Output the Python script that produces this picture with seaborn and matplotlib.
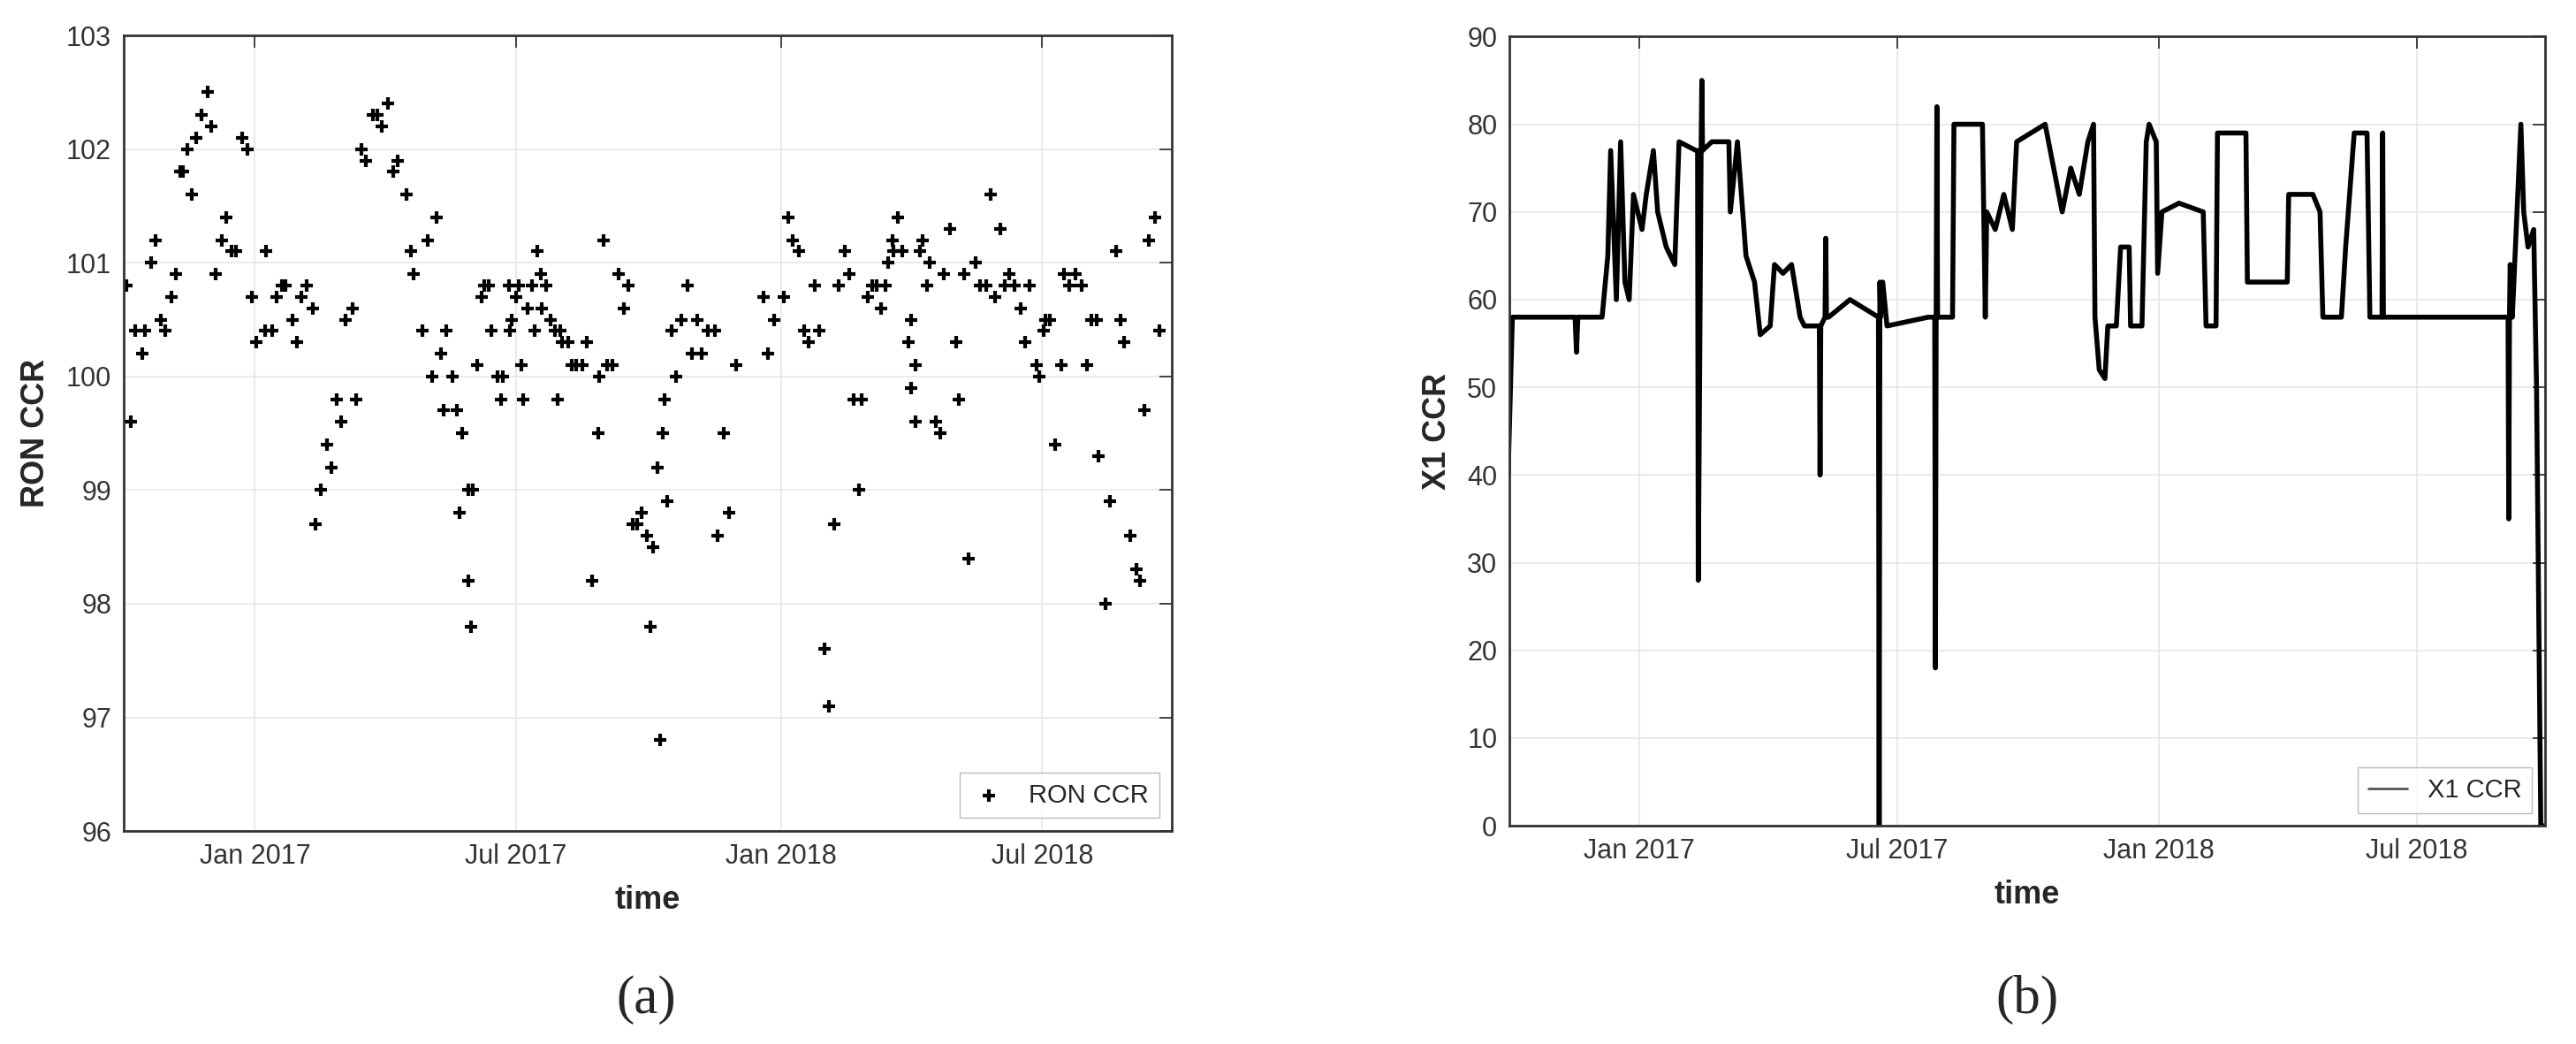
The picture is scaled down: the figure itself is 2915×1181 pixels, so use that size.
import numpy as np
import pandas as pd
import matplotlib
matplotlib.use("Agg")
import matplotlib.pyplot as plt
import matplotlib.dates as mdates
import seaborn as sns

sns.set_theme(style="white")
plt.rcParams['font.family'] = ['Liberation Sans', 'DejaVu Sans']

# ---- data (a): RON CCR, days since 2016-10-02 ----
ron_start = "2016-10-02"
ron_days = [2,5,8,13,15,19,22,26,29,33,36,39,41,44,47,50,54,58,61,64,68,71,75,78,82,86,89,92,98,99,
            103,106,110,112,117,120,123,127,131,133,137,141,144,148,151,154,159,161,165,168,173,176,179,183,187,190,196,199,201,207,
            211,214,217,220,222,224,228,231,233,235,239,239,241,242,245,248,250,253,255,259,262,263,267,268,269,272,274,276,277,280,
            283,285,287,289,290,293,296,299,301,303,304,308,311,314,318,321,325,329,330,333,335,339,343,347,350,353,356,359,363,365,
            367,370,372,374,375,377,380,383,387,391,394,398,401,405,410,412,416,420,425,444,447,451,458,461,464,468,472,475,479,482,
            486,489,493,496,500,503,506,510,512,516,519,522,525,528,530,533,534,537,540,544,546,546,549,549,552,554,557,559,563,566,
            569,573,577,579,583,586,591,594,598,601,604,608,611,614,618,622,625,628,633,635,638,639,642,646,650,652,656,660,664,668,
            671,675,676,681,684,688,691,694,698,702,705,708,711,715,718]
ron_vals = [100.8,99.6,100.4,100.2,100.4,101.0,101.2,100.5,100.4,100.7,100.9,101.8,101.8,102.0,101.6,102.1,102.3,102.5,102.2,100.9,
            101.2,101.4,101.1,101.1,102.1,102.0,100.7,100.3,100.4,101.1,100.4,100.7,100.8,100.8,100.5,100.3,100.7,100.8,100.6,98.7,
            99.0,99.4,99.2,99.8,99.6,100.5,100.6,99.8,102.0,101.9,102.3,102.3,102.2,102.4,101.8,101.9,101.6,101.1,100.9,100.4,
            101.2,100.0,101.4,100.2,99.7,100.4,100.0,99.7,98.8,99.5,99.0,98.2,97.8,99.0,100.1,100.7,100.8,100.8,100.4,100.0,
            99.8,100.0,100.8,100.4,100.5,100.7,100.8,100.1,99.8,100.6,100.8,100.4,101.1,100.9,100.6,100.8,100.5,100.4,99.8,100.4,
            100.3,100.3,100.1,100.1,100.1,100.3,98.2,99.5,100.0,101.2,100.1,100.1,100.9,100.6,100.8,98.7,98.7,98.8,98.6,97.8,
            98.5,99.2,96.8,99.5,99.8,98.9,100.4,100.0,100.5,100.8,100.2,100.5,100.2,100.4,100.4,98.6,99.5,98.8,100.1,100.7,
            100.2,100.5,100.7,101.4,101.2,101.1,100.4,100.3,100.8,100.4,97.6,97.1,98.7,100.8,101.1,100.9,99.8,99.0,99.8,100.7,
            100.8,100.8,100.6,100.8,101.0,101.2,101.1,101.4,101.1,100.3,100.5,99.9,100.1,99.6,101.1,101.2,100.8,101.0,99.6,99.5,
            100.9,101.3,100.3,99.8,100.9,98.4,101.0,100.8,100.8,101.6,100.7,101.3,100.8,100.9,100.8,100.6,100.3,100.8,100.1,100.0,
            100.4,100.5,100.5,99.4,100.1,100.9,100.8,100.9,100.8,100.1,100.5,100.5,99.3,98.0,98.9,101.1,100.5,100.3,98.6,98.3,
            98.2,99.7,101.2,101.4,100.4]

# ---- data (b): X1 CCR, days since 2016-10-01 ----
x1_start = "2016-10-01"
x1_days = [0,3,47,48,49,66,70,72,76,79,82,85,88,94,97,102,105,111,117,120,132,133,133.5,135.5,136,136.5,143,155,156,161,
           167,173,177,184,187,193,199,205,208,218.5,219,219.5,222.5,223,223.5,225,240,260,260.5,261,261.5,263,266,295,299.5,300,300.5,301,301.5,312,
           313,333,335,336,342,348,354,357,377,383,389,395,401,407,411,412,415,419,421,427,430,436,437,445,448,450,455,456,459,471,
           488,490,497,498,518,519,547,548,565,570,572,585,588,594,603,605,613.5,614,614.5,616,702,702.5,703,703.5,705,711,713,716,720,722,725,728]
x1_vals = [40,58,58,54,58,58,65,77,60,78,62,60,72,68,72,77,70,66,64,78,77,77,28,77,85,77,78,78,70,78,
           65,62,56,57,64,63,64,58,57,57,40,57,58,67,58,58,60,58,0,62,58,62,57,58,58,18,58,82,58,58,
           80,80,58,70,68,72,68,78,80,75,70,75,72,78,80,58,52,51,57,57,66,66,57,57,78,80,78,63,70,71,
           70,57,57,79,79,62,62,72,72,70,58,58,66,79,79,58,58,79,58,58,58,35,58,64,58,80,70,66,68,50,0,0]

r_dates = pd.Timestamp(ron_start) + pd.to_timedelta(ron_days, unit="D")
x_dates = pd.Timestamp(x1_start) + pd.to_timedelta(x1_days, unit="D")
df_a = pd.DataFrame({"time": r_dates, "RON CCR": ron_vals})
df_b = pd.DataFrame({"time": x_dates, "X1 CCR": x1_vals})

fig = plt.figure(figsize=(29.15, 11.81), dpi=100)
ax1 = fig.add_axes([0.048, 0.204, 0.407, 0.762])
ax2 = fig.add_axes([0.586, 0.209, 0.402, 0.756])

sns.scatterplot(data=df_a, x="time", y="RON CCR", ax=ax1, marker="+", color="black",
                s=110, linewidth=3, label="RON CCR")
sns.lineplot(data=df_b, x="time", y="X1 CCR", ax=ax2, color="black", linewidth=4,
             label="X1 CCR", estimator=None, sort=False)

ticks = pd.to_datetime(["2017-01-01", "2017-07-01", "2018-01-01", "2018-07-01"])
for ax, lo, hi in [(ax1, 96, 103), (ax2, 0, 90)]:
    ax.set_xlim(pd.Timestamp("2016-10-02"), pd.Timestamp("2018-09-29"))
    ax.set_ylim(lo, hi)
    ax.set_xticks(ticks)
    ax.xaxis.set_major_formatter(mdates.DateFormatter("%b %Y"))
    ax.grid(True, color="#e6e6e6", linewidth=1.2)
    ax.tick_params(direction="in", length=10, width=1.2, labelsize=22, labelcolor="#333333",
                   top=True, right=True, pad=10)
    for s in ax.spines.values():
        s.set_color("#333333"); s.set_linewidth(2)
    ax.set_xlabel("time", fontsize=26, fontweight="bold", labelpad=12)
    leg = ax.legend(loc="lower right", fontsize=21, frameon=True, fancybox=False,
                    edgecolor="#aaaaaa", handlelength=1.5)
for h in ax2.get_legend().get_lines():
    h.set_color("#555555"); h.set_linewidth(2)
ax1.set_yticks(range(96, 104))
ax2.set_yticks(range(0, 91, 10))
ax1.set_ylabel("RON CCR", fontsize=26, fontweight="bold", labelpad=12)
ax2.set_ylabel("X1 CCR", fontsize=26, fontweight="bold", labelpad=12)

fig.text(0.251, 0.03, "(a)", fontsize=44, family="Liberation Serif", ha="center")
fig.text(0.787, 0.03, "(b)", fontsize=44, family="Liberation Serif", ha="center")
fig.savefig("out.png", dpi=100)
